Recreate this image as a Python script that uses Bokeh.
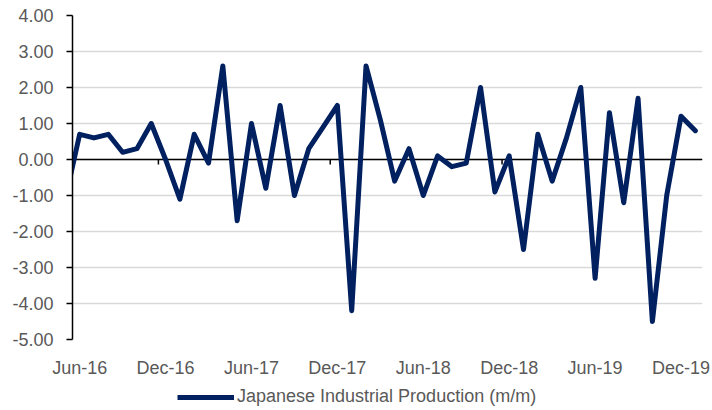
import pandas as pd
from bokeh.plotting import figure
from bokeh.layouts import column
from bokeh.models import (Range1d, FixedTicker, LinearAxis, NumeralTickFormatter,
                          Legend, LegendItem, Span)
from bokeh.embed import file_html
from bokeh.resources import INLINE

# Monthly data, May-16 (partly outside the visible range) to Jan-20
months = list(pd.date_range("2016-05-01", periods=45, freq="MS").strftime("%b-%y"))
values = [-1.1,
          0.7, 0.6, 0.7, 0.2, 0.3, 1.0, 0.0,
          -1.1, 0.7, -0.1, 2.6, -1.7, 1.0, -0.8, 1.5, -1.0, 0.3, 0.9, 1.5,
          -4.2, 2.6, 1.1, -0.6, 0.3, -1.0, 0.1, -0.2, -0.1, 2.0, -0.9, 0.1,
          -2.5, 0.7, -0.6, 0.6, 2.0, -3.3, 1.3, -1.2, 1.7, -4.5, -1.0, 1.2,
          0.8]
series_name = "Japanese Industrial Production (m/m)"
tick_labels = ["Jun-16", "Dec-16", "Jun-17", "Dec-17", "Jun-18", "Dec-18", "Jun-19", "Dec-19"]
y_ticks = [-5, -4, -3, -2, -1, 0, 1, 2, 3, 4]

FONT = "Liberation Sans"
FS = "18px"
TXT = "#595959"
LINE_COLOR = "#002060"

x = [i - 1 for i in range(len(months))]  # Jun-16 -> 0
label_pos = [months.index(m) - 1 for m in tick_labels]
minor_pos = [p_ - 0.5 for p_ in label_pos[1::2]]

p = figure(width=712, height=380, output_backend="svg", toolbar_location=None,
           x_range=Range1d(-0.5, 43.5), y_range=Range1d(-5, 4),
           x_axis_type=None, min_border_left=72, min_border_right=10,
           min_border_top=15, min_border_bottom=40, outline_line_color=None)

# y axis
p.yaxis.ticker = FixedTicker(ticks=y_ticks)
p.yaxis.formatter = NumeralTickFormatter(format="0.00")
p.yaxis.axis_line_color = "black"
p.yaxis.axis_line_width = 1.5
p.yaxis.major_tick_line_color = "black"
p.yaxis.major_tick_line_width = 1.5
p.yaxis.major_tick_out = 6
p.yaxis.major_tick_in = 0
p.yaxis.minor_tick_line_color = None
p.yaxis.major_label_standoff = 13
p.yaxis.major_label_text_font = FONT
p.yaxis.major_label_text_font_size = FS
p.yaxis.major_label_text_color = TXT

p.ygrid.ticker = FixedTicker(ticks=y_ticks)
p.ygrid.grid_line_color = "#d9d9d9"
p.ygrid.grid_line_width = 1.5

zero = Span(location=0, dimension="width", line_color="black", line_width=1.5,
            level="underlay")
p.add_layout(zero)

# small tick marks hanging under the zero line
tick_len = 0.14
p.segment(x0=minor_pos, y0=[0] * len(minor_pos), x1=minor_pos,
          y1=[-tick_len] * len(minor_pos), line_color="black", line_width=1.5)

# category labels
xaxis = LinearAxis(ticker=FixedTicker(ticks=label_pos),
                   major_label_overrides={pos: lab for pos, lab in zip(label_pos, tick_labels)},
                   axis_line_color=None, major_tick_line_color=None,
                   major_tick_out=0, major_tick_in=0, minor_tick_line_color=None,
                   major_label_standoff=18, major_label_text_font=FONT,
                   major_label_text_font_size=FS, major_label_text_color=TXT)
p.add_layout(xaxis, "below")

p.line(x, values, line_color=LINE_COLOR, line_width=5, line_join="round",
       line_cap="round")

# legend strip below the chart (its series copy lies outside this strip's ranges)
lg = figure(width=712, height=30, output_backend="svg", toolbar_location=None,
            x_range=Range1d(1000, 1001), y_range=Range1d(1000, 1001),
            x_axis_type=None, y_axis_type=None, min_border=0,
            outline_line_color=None)
lg.xgrid.visible = False
lg.ygrid.visible = False
key = lg.line(x, values, line_color=LINE_COLOR, line_width=5)
legend = Legend(items=[LegendItem(label=series_name, renderers=[key])],
                orientation="horizontal", location=(105, 3),
                border_line_color=None, background_fill_alpha=0,
                glyph_width=57, glyph_height=20, label_standoff=3,
                padding=0, margin=0, spacing=0,
                label_text_font=FONT, label_text_font_size=FS,
                label_text_color=TXT)
lg.add_layout(legend, "center")

layout = column(p, lg, spacing=0)
open("out.html", "w").write(file_html(layout, INLINE))
